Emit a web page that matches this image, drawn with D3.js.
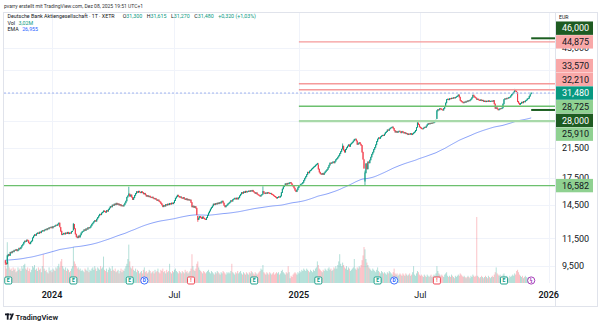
<!DOCTYPE html>
<html><head><meta charset="utf-8">
<script src="https://cdn.jsdelivr.net/npm/d3@7"></script>
<style>body{margin:0;background:#fff;}svg{display:block;font-family:Roboto,"Noto Sans",sans-serif;}</style>
</head><body><svg id="c" width="600" height="328"></svg>
<script>
// ---------- DATA ----------
const startDate = "2023-10-23";
const holidays = ["2023-12-25","2023-12-26","2024-01-01","2024-03-29","2024-04-01","2024-05-01","2024-12-24","2024-12-25","2024-12-26","2024-12-31","2025-01-01","2025-04-18","2025-04-21","2025-05-01"];
const closes = [9.70,9.62,10.18,10.30,10.22,10.45,10.40,10.52,10.48,10.60,
10.58,10.66,10.55,10.62,10.75,10.70,10.82,10.95,11.05,11.20,
11.30,11.25,11.38,11.32,11.15,11.08,11.22,11.30,11.55,11.70,
11.80,11.75,11.88,11.95,11.90,12.02,11.96,12.08,12.15,12.10,
12.18,12.25,12.20,12.32,12.28,12.40,12.38,12.45,12.36,12.50,
12.48,12.55,12.62,12.58,12.70,12.80,12.45,12.10,11.80,11.85,
11.92,11.85,11.95,11.90,12.00,11.88,11.95,11.92,12.05,12.10,
12.68,12.30,11.85,11.62,11.55,11.70,11.60,11.78,11.95,12.05,
12.10,12.22,12.15,12.30,12.25,12.40,12.35,12.42,12.55,12.70,
12.80,12.92,13.02,12.95,13.15,13.30,13.45,13.60,13.55,13.72,
13.80,13.92,13.85,13.78,13.95,13.88,14.05,14.20,14.35,14.30,
14.50,14.45,14.60,14.52,14.68,14.55,14.62,14.48,14.55,14.40,
14.45,14.38,14.52,14.70,14.90,15.30,15.45,15.65,15.40,15.55,
15.30,15.05,15.25,15.50,15.70,15.90,15.82,15.95,15.85,15.78,
15.90,15.80,15.65,15.72,15.55,15.40,15.48,15.35,15.42,15.30,
15.25,15.32,15.20,15.12,15.18,15.05,14.95,15.02,14.88,14.80,
14.65,14.50,14.32,14.45,14.38,14.55,14.48,14.60,14.52,14.66,
14.58,14.70,14.62,14.72,14.95,15.20,15.35,15.52,15.40,15.30,
15.35,15.22,15.18,15.28,15.12,15.05,15.15,15.00,15.08,14.98,
15.02,14.75,14.30,14.40,14.25,14.35,14.18,13.55,13.10,13.25,
13.40,13.30,13.20,13.35,13.22,13.15,13.10,13.28,13.50,13.72,
13.90,14.10,14.25,14.40,14.60,14.52,14.65,14.58,14.70,14.62,
14.75,14.68,14.82,14.90,14.70,14.45,14.30,14.42,14.50,14.62,
14.70,14.80,14.95,14.88,15.05,15.12,15.20,15.10,15.22,15.10,
15.25,15.45,15.62,15.80,15.72,15.88,15.80,15.95,15.85,15.90,
15.98,15.92,16.02,15.95,16.05,15.90,15.82,15.70,15.78,15.62,
15.55,15.48,15.40,15.52,15.60,15.92,15.75,15.68,15.78,15.70,
15.82,15.75,15.68,15.72,15.60,15.55,15.45,15.38,15.30,15.20,
15.28,15.35,15.30,15.42,15.80,16.20,16.45,16.60,16.80,16.72,
16.85,16.78,16.90,16.95,16.80,16.62,16.50,16.30,16.05,15.90,
16.10,16.35,16.55,16.62,16.75,16.80,16.95,17.20,17.45,17.65,
17.90,18.20,18.10,18.35,18.45,18.60,18.72,18.85,18.95,19.10,
19.20,19.35,18.60,18.20,18.00,17.92,18.05,17.90,18.10,18.25,
18.40,18.55,18.80,19.10,19.40,19.32,19.45,19.55,19.40,19.62,
19.85,20.00,20.20,20.40,20.70,21.00,21.35,21.80,21.20,20.90,
21.30,21.55,21.80,22.00,21.75,22.10,22.25,22.40,22.60,22.85,
22.90,22.60,22.05,22.20,22.35,22.10,21.90,20.90,19.90,18.75,
18.10,19.30,18.60,19.55,19.40,19.80,20.20,20.60,20.90,21.30,
21.60,22.00,22.50,22.90,23.10,23.00,23.25,23.40,23.50,23.45,
23.70,23.95,24.10,24.40,24.30,24.55,24.70,24.80,24.90,24.65,
24.30,24.00,24.15,23.95,24.10,24.20,24.05,23.90,24.15,24.00,
23.85,23.95,23.75,23.80,23.60,23.72,23.65,23.80,23.60,23.75,
23.90,24.05,24.30,24.80,25.60,25.30,24.90,24.75,24.60,24.55,
24.70,24.85,24.80,25.05,25.30,25.50,25.40,25.55,25.48,25.62,
25.60,25.75,25.90,26.10,27.80,28.10,28.00,28.30,28.20,28.05,
27.95,28.30,28.70,29.40,30.10,30.20,30.05,30.30,30.25,30.40,
30.35,30.50,30.40,30.55,30.70,30.85,31.10,30.60,29.90,29.70,
29.55,29.40,29.60,29.50,29.75,29.65,29.90,29.80,30.00,30.20,
30.50,31.05,30.80,30.55,30.40,30.10,30.20,30.00,29.90,30.05,
29.85,29.95,29.70,29.80,29.65,29.78,29.70,29.85,29.68,29.75,
29.80,29.70,29.90,29.20,28.30,28.45,28.20,28.00,28.15,28.30,
28.25,28.40,29.20,30.10,30.30,30.20,30.40,30.35,30.55,30.60,
30.90,31.20,31.40,31.70,32.10,31.90,31.75,29.70,29.35,29.10,
29.30,29.55,29.40,29.70,29.60,29.85,30.00,30.25,30.35,30.80,
31.16,31.48];
// volume in millions of shares
const volumes = [14,12,34,18,13,11,12,10,13,11,
12,9,10,13,11,12,10,14,12,15,
16,12,11,13,10,12,9,11,14,13,
15,11,12,10,13,11,12,9,14,24,
12,10,11,9,8,13,10,11,9,12,
11,10,13,12,14,16,13,18,20,14,
12,11,13,10,12,11,9,10,12,14,
30,18,16,14,12,13,11,12,10,11,
10,9,12,11,10,13,9,11,10,12,
13,11,14,12,10,13,12,11,14,12,
13,22,11,10,12,9,11,13,12,10,
14,11,10,12,9,10,11,8,10,12,
9,11,10,12,14,16,20,32,18,13,
12,14,11,10,12,9,11,10,8,9,
10,8,11,13,9,10,8,9,11,10,
8,9,10,8,11,9,10,12,9,8,
11,10,12,9,10,8,11,9,10,16,
9,8,10,9,11,12,10,9,8,10,
9,8,10,9,8,11,9,10,8,9,
10,12,24,14,11,10,12,16,18,13,
11,10,9,8,10,9,8,9,10,11,
9,8,10,9,8,7,9,8,10,9,
8,7,9,8,10,9,8,7,9,8,
9,8,10,16,9,8,7,9,8,10,
8,9,10,8,7,9,8,7,9,8,
7,9,8,10,9,8,7,9,8,7,
8,9,10,12,11,15,9,8,7,9,
8,7,9,8,7,8,9,7,8,9,
8,9,7,8,10,11,9,8,7,9,
8,14,9,4,6,5,7,8,9,8,
7,9,8,10,9,11,10,12,11,10,
12,11,10,9,11,10,9,11,10,12,
13,18,15,12,11,10,9,11,10,12,
11,10,12,13,11,12,10,11,13,12,
14,12,15,18,24,16,14,17,15,13,
12,14,11,13,12,10,11,12,13,20,
12,11,13,12,14,13,15,19,23,30,
28,20,17,15,13,12,11,10,12,11,
10,9,11,13,10,9,8,10,9,8,
9,8,7,9,8,10,9,8,7,9,
12,8,7,8,6,7,8,7,6,8,
7,6,8,7,6,7,8,6,7,9,
14,7,6,8,10,9,7,6,7,6,
5,7,6,5,7,6,5,6,7,5,
6,7,6,8,14,10,8,7,6,7,
6,5,7,8,9,6,5,6,5,7,
6,5,4,6,5,6,7,6,8,7,
6,5,6,5,4,5,6,5,4,6,
5,7,6,5,6,55,6,5,4,5,
6,5,4,5,6,5,4,6,5,4,
5,6,5,7,9,13,8,7,6,7,
6,5,7,8,6,5,6,5,4,6,
5,6,7,6,8,7,10,11,9,7,
6,5,6,4,5,6,5,4,5,4,
4,3.02];
// candles whose open/high/low differ from (previous close / body): [index, open, high, low]
const candleOverrides = [[0,9.85,9.90,9.55],[2,9.65,10.25,9.62],[57,12.40,12.45,12.05],[70,12.20,12.80,12.15],
[127,15.50,16.45,15.40],[198,13.40,13.45,12.90],[265,15.65,16.50,15.55],[322,19.10,19.40,18.55],
[347,21.40,22.20,21.30],[369,19.80,19.95,18.60],[370,17.10,18.40,16.582],[424,24.85,25.90,24.80],
[444,26.40,28.00,26.30],[524,31.75,32.40,31.65],[527,31.60,31.70,29.55],[541,31.30,31.615,31.27]];
const emaPeriod = 200, emaSeed = 9.9;
const priceTicks = [9.5, 11.5, 14.5, 17.5, 21.5, 26, 31.5, 37, 43];
const timeTickDates = ["2024-01-02","2024-07-01","2025-01-02","2025-07-01","2026-01-01"];
const timeTickLabels = ["2024","Jul","2025","Jul","2026"];
const timeTickYear = [true,false,true,false,true];
const levelPrices = [46.0, 44.875, 33.57, 32.21, 28.725, 28.0, 25.91, 16.582];
const levelKinds  = ["dark","red","red","red","green","dark","lightgreen","green"];
const levelStarts = ["2025-12-08","2025-01-02","2025-01-02","2025-01-02","2025-01-02","2025-12-08","2025-01-02",null];
const eventDates = ["2023-10-26","2024-02-01","2024-04-25","2024-05-17","2024-07-24","2024-10-23","2025-01-30","2025-04-29","2025-05-23","2025-07-24","2025-10-29","2025-12-08"];
const eventTypes = ["E","E","E","D","R","E","E","E","D","R","E","P"];
const headerCredit = "pvarry erstellt mit TradingView.com, Dez 08, 2025 19:51 UTC+1";
const symbolTitle = "Deutsche Bank Aktiengesellschaft · 1T · XETR";
const ohlcLabels = ["O","H","L","C"];
const ohlcValues = ["31,300","31,615","31,270","31,480"];
const changeText = "+0,320 (+1,03%)";
const volText = "3,02M";
const emaText = "26,955";
const currency = "EUR";

// ---------- STYLE ----------
const UP="#089981", DOWN="#f23645", TXT="#131722";
const kindStyle = {
  dark:{line:"#1b5e20",w:2,bg:"#1e5b22",fg:"#ffffff"},
  red:{line:"#f59a9a",w:1.3,bg:"#f9a8a8",fg:TXT},
  green:{line:"#6cc06e",w:1.3,bg:"#8fd191",fg:TXT},
  lightgreen:{line:"#a8d9a9",w:2.4,bg:"#8fd191",fg:TXT},
  last:{bg:"#089981",fg:"#ffffff"}
};
const fmt = v => v.toFixed(3).replace(".", ",");

// ---------- CALENDAR ----------
const ymd = d => d.toISOString().slice(0,10);
const allDates = [];
{
  let d = new Date(startDate+"T00:00:00Z");
  while (allDates.length < closes.length) {
    const wd = d.getUTCDay(), s = ymd(d);
    if (wd!==0 && wd!==6 && !holidays.includes(s)) allDates.push(s);
    d.setUTCDate(d.getUTCDate()+1);
  }
  while (ymd(d) <= "2026-01-15") {
    const wd = d.getUTCDay();
    if (wd!==0 && wd!==6) allDates.push(ymd(d));
    d.setUTCDate(d.getUTCDate()+1);
  }
}
const idxOf = s => allDates.findIndex(t => t >= s);

// ---------- CANDLES ----------
const ov = new Map(candleOverrides.map(r => [r[0], r]));
const candles = closes.map((c,i) => {
  let o = i>0 ? closes[i-1] : c;
  let h = Math.max(o,c), l = Math.min(o,c);
  if (ov.has(i)) { const r = ov.get(i); o = r[1]; h = r[2]; l = r[3]; }
  return {i,o,h,l,c,v:volumes[i]||0};
});
const alpha = 2/(emaPeriod+1);
let e = emaSeed;
const ema = closes.map(c => (e = e + alpha*(c-e)));

// ---------- SCALES ----------
const plotRight = 555, paneTop = 13, paneBottom = 283;
const x = d3.scaleLinear().domain([-5.5, 565.5]).range([0, plotRight]);
const y = d3.scaleLog().domain([9.5, 46]).range([266, 38.3]);
const yv = d3.scaleLinear().domain([0, 55]).range([283, 217]);

const svg = d3.select("#c");
svg.append("rect").attr("width",600).attr("height",328).attr("fill","#fff");
svg.append("defs").append("clipPath").attr("id","pane").append("rect")
  .attr("x",4).attr("y",paneTop).attr("width",plotRight-4).attr("height",paneBottom-paneTop);

// grid
const grid = svg.append("g");
grid.selectAll("line.h").data(priceTicks).join("line")
  .attr("x1",4).attr("x2",plotRight).attr("y1",d=>Math.round(y(d))+0.5).attr("y2",d=>Math.round(y(d))+0.5)
  .attr("stroke","#f0f3fa").attr("stroke-width",1);
grid.selectAll("line.v").data(timeTickDates).join("line")
  .attr("x1",d=>Math.round(x(idxOf(d)))+0.5).attr("x2",d=>Math.round(x(idxOf(d)))+0.5)
  .attr("y1",paneTop).attr("y2",paneBottom)
  .attr("stroke","#f0f3fa").attr("stroke-width",1);

const pane = svg.append("g").attr("clip-path","url(#pane)");

// volume
pane.append("g").selectAll("rect").data(candles).join("rect")
  .attr("x",d=>x(d.i)-0.5).attr("width",1)
  .attr("y",d=>yv(d.v)).attr("height",d=>yv(0)-yv(d.v))
  .attr("fill",d=>d.c>=d.o?UP:DOWN).attr("opacity",0.3);

// EMA
pane.append("path").datum(ema)
  .attr("d", d3.line().x((d,i)=>x(i)).y(d=>y(d)))
  .attr("fill","none").attr("stroke","#5d7ff6").attr("stroke-width",1).attr("opacity",0.75);

// candles
const cg = pane.append("g");
cg.selectAll("line").data(candles).join("line")
  .attr("x1",d=>x(d.i)).attr("x2",d=>x(d.i))
  .attr("y1",d=>y(d.h)).attr("y2",d=>y(d.l))
  .attr("stroke",d=>d.c>=d.o?UP:DOWN).attr("stroke-width",0.7);
cg.selectAll("rect").data(candles).join("rect")
  .attr("x",d=>x(d.i)-0.5).attr("width",1)
  .attr("y",d=>y(Math.max(d.o,d.c))-0.4)
  .attr("height",d=>Math.max(1.2, y(Math.min(d.o,d.c))-y(Math.max(d.o,d.c))+0.8))
  .attr("fill",d=>d.c>=d.o?UP:DOWN);

// current price line
const last = closes[closes.length-1];
pane.append("line").attr("x1",4).attr("x2",plotRight)
  .attr("y1",y(last)).attr("y2",y(last))
  .attr("stroke","#9fb2ee").attr("stroke-width",1).attr("stroke-dasharray","2,2");

// level drawings
levelPrices.forEach((p,k) => {
  const st = kindStyle[levelKinds[k]];
  const x1 = levelStarts[k] ? x(idxOf(levelStarts[k])) : 4;
  pane.append("line").attr("x1",x1).attr("x2",plotRight)
    .attr("y1",y(p)).attr("y2",y(p))
    .attr("stroke",st.line).attr("stroke-width",st.w);
});

// events
const eg = svg.append("g");
eventDates.forEach((d,k) => {
  const cx = x(idxOf(d)), cy = 280.5, t = eventTypes[k];
  if (t==="E" || t==="R") {
    const col = t==="E"?UP:DOWN;
    eg.append("rect").attr("x",cx-3.5).attr("y",cy-3.5).attr("width",7).attr("height",7).attr("rx",1.2)
      .attr("fill","#fff").attr("stroke",col).attr("stroke-width",0.9);
    eg.append("text").attr("x",cx).attr("y",cy+1.8).attr("text-anchor","middle")
      .attr("font-size",5).attr("font-weight",700).attr("fill",col).text(t==="E"?"E":"!");
  } else {
    const col = t==="D"?"#2962ff":"#9c27b0";
    eg.append("circle").attr("cx",cx).attr("cy",cy).attr("r",3.6)
      .attr("fill","#fff").attr("stroke",col).attr("stroke-width",0.9);
    eg.append("text").attr("x",cx).attr("y",cy+1.8).attr("text-anchor","middle")
      .attr("font-size",5).attr("font-weight",700).attr("fill",col).text(t==="D"?"D":"ϟ");
  }
});

// frame & separators
svg.append("line").attr("x1",plotRight+0.5).attr("x2",plotRight+0.5).attr("y1",paneTop).attr("y2",306)
  .attr("stroke","#e0e3eb");
svg.append("rect").attr("x",3.5).attr("y",12.5).attr("width",594).attr("height",294)
  .attr("fill","none").attr("stroke","#e0e3eb");

// labels with collision avoidance (computed first so fully hidden ticks can be skipped)
const labels = levelPrices.map((p,k)=>({p,kind:levelKinds[k],y:y(p)}))
  .concat([{p:last,kind:"last",y:y(last),fixed:true}]);
labels.sort((a,b)=>a.y-b.y);
const gap = 13.7;
const ai = labels.findIndex(l=>l.fixed);
for (let k=ai+1;k<labels.length;k++) if (labels[k].y < labels[k-1].y+gap) labels[k].y = labels[k-1].y+gap;
for (let k=ai-1;k>=0;k--) if (labels[k].y > labels[k+1].y-gap) labels[k].y = labels[k+1].y-gap;

const visibleTicks = priceTicks.filter(t => !labels.some(l => Math.abs(l.y - y(t)) < 5));
svg.append("g").selectAll("text").data(visibleTicks).join("text")
  .attr("x",562).attr("y",d=>y(d)).attr("dy","0.35em")
  .attr("font-size",9).attr("fill",TXT).text(fmt);

const lg = svg.append("g");
labels.forEach(l => {
  const st = kindStyle[l.kind];
  lg.append("rect").attr("x",556).attr("y",l.y-6.7).attr("width",37).attr("height",13.4).attr("fill",st.bg);
  lg.append("text").attr("x",562).attr("y",l.y).attr("dy","0.35em").attr("font-size",9)
    .attr("fill",st.fg).text(fmt(l.p));
});

// currency
svg.append("text").attr("x",559).attr("y",19).attr("font-size",5.2).attr("fill",TXT).text(currency);

// time axis
svg.append("g").selectAll("text").data(timeTickDates).join("text")
  .attr("x",d=>x(idxOf(d))).attr("y",298).attr("text-anchor","middle")
  .attr("font-size",9).attr("font-weight",(d,k)=>timeTickYear[k]?600:400)
  .attr("fill",TXT).text((d,k)=>timeTickLabels[k]);

// header
svg.append("text").attr("x",4).attr("y",8).attr("font-size",5).attr("fill","#333").text(headerCredit);
const t2 = svg.append("text").attr("x",7.5).attr("y",17.5).attr("font-size",5.3).attr("fill",TXT);
t2.append("tspan").text(symbolTitle);
ohlcLabels.forEach((lab,k)=>{
  t2.append("tspan").attr("dx",k===0?8:4.5).text(lab);
  t2.append("tspan").attr("fill",UP).text(ohlcValues[k]);
});
t2.append("tspan").attr("dx",4.5).attr("fill",UP).text(changeText);
const t3 = svg.append("text").attr("x",7.5).attr("y",24.5).attr("font-size",5.3).attr("fill",TXT);
t3.append("tspan").text("Vol");
t3.append("tspan").attr("dx",3.5).attr("fill",UP).text(volText);
const t4 = svg.append("text").attr("x",7.5).attr("y",31).attr("font-size",5.3).attr("fill",TXT);
t4.append("tspan").text("EMA");
t4.append("tspan").attr("dx",3.5).attr("fill","#2962ff").text(emaText);

// TradingView logo
const logo = svg.append("g").attr("fill",TXT);
logo.append("rect").attr("x",5).attr("y",313.5).attr("width",4.4).attr("height",1.8);
logo.append("rect").attr("x",6.8).attr("y",313.5).attr("width",1.8).attr("height",6.2);
logo.append("circle").attr("cx",10.6).attr("cy",314.6).attr("r",1.0);
logo.append("path").attr("d","M11.9,313.5 L14,313.5 L11.4,319.7 L9.4,319.7 Z");
svg.append("text").attr("x",15.5).attr("y",320).attr("font-size",7.6).attr("font-weight",600)
  .attr("fill",TXT).text("TradingView");
</script></body></html>
